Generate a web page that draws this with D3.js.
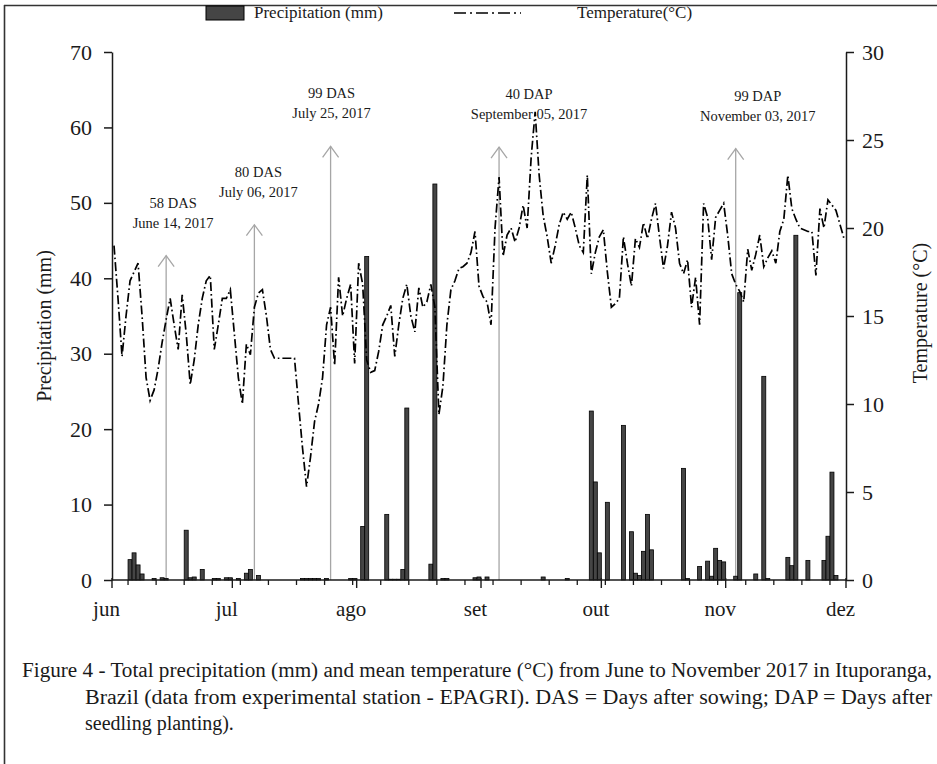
<!DOCTYPE html>
<html><head><meta charset="utf-8">
<script src="https://cdn.jsdelivr.net/npm/d3@7"></script>
<style>
body{margin:0;background:#fff}
svg{display:block}
text{font-family:"Liberation Serif","Times New Roman",serif;fill:#1a1a1a}
</style>
</head><body>
<svg id="c" width="937" height="764"></svg>
<script>
// ---------- DATA ----------
const startDate = "2017-06-01";
const endDate = "2017-12-01";
const monthLabels = ["jun","jul","ago","set","out","nov","dez"];
const leftTicks = [0,10,20,30,40,50,60,70];
const rightTicks = [0,5,10,15,20,25,30];

// daily mean temperature (°C), Jun 1 .. Nov 30 2017
const temperature = [
 19.0,16.0,12.7,15.0,17.0,17.5,18.0,15.0,11.5,10.2,
 10.8,12.0,13.5,14.8,16.0,14.5,13.1,16.2,14.0,11.1,
 12.5,14.5,16.0,17.0,17.3,13.1,14.5,16.0,16.0,16.5,
 14.0,11.5,10.0,13.4,12.8,15.5,16.3,16.5,15.0,13.1,
 12.6,12.6,12.6,12.6,12.6,12.6,10.0,7.5,5.3,7.0,
 9.0,10.0,11.5,14.5,15.5,12.2,17.2,15.0,16.0,16.8,
 12.3,18.0,16.8,12.5,11.8,11.9,13.0,14.5,15.0,15.6,
 12.7,14.5,16.0,16.8,15.0,14.1,16.6,15.5,15.8,16.8,
 15.5,9.4,11.0,14.5,16.5,17.0,17.7,17.8,18.0,18.6,
 19.8,16.7,16.1,15.8,14.5,20.0,22.9,18.4,19.6,20.0,
 19.2,20.0,21.3,20.0,24.0,26.6,23.0,20.7,19.5,18.0,
 19.0,20.2,20.9,20.5,20.9,20.0,19.0,18.6,23.0,17.4,
 18.6,19.5,19.9,17.5,15.5,15.7,16.0,19.5,18.0,16.7,
 19.4,18.9,20.3,19.4,20.5,21.4,19.5,17.7,19.0,20.9,
 20.0,18.0,17.4,18.2,15.5,17.2,14.5,21.4,20.6,18.2,
 20.6,21.0,21.4,19.6,17.4,16.8,16.4,15.8,18.8,17.6,
 18.5,19.6,17.8,18.3,18.7,18.0,19.8,20.5,23.0,21.1,
 20.5,20.0,19.9,19.8,19.8,17.3,21.1,20.0,21.6,21.3,
 21.0,20.2,19.4
];

// daily precipitation (mm): day index counted from Jun 1, and amount
const precipDays = [4,5,6,7,10,12,13,18,19,20,22,25,26,28,29,31,33,34,36,
 47,48,49,50,51,53,59,60,62,63,68,69,70,71,72,73,79,80,82,83,90,91,93,107,113,
 119,120,121,123,127,129,130,131,132,133,134,142,143,146,148,149,150,151,152,
 155,156,160,162,163,168,169,170,173,177,178,179,180];
const precipValues = [2.7,3.6,2.0,0.8,0.2,0.3,0.2,6.6,0.3,0.4,1.4,0.2,0.2,0.3,0.3,0.2,0.9,1.4,0.6,
 0.2,0.2,0.2,0.2,0.2,0.2,0.2,0.2,7.1,42.9,8.7,0.1,0.1,0.1,1.4,22.8,2.1,52.5,0.2,0.2,0.3,0.4,0.4,0.4,0.2,
 22.4,13.0,3.6,10.3,20.5,6.4,0.9,0.6,3.8,8.7,4.0,14.8,0.2,1.8,2.5,0.5,4.2,2.6,2.4,
 0.5,38.1,0.8,27.0,0.2,3.0,1.9,45.7,2.6,2.6,5.8,14.3,0.6];

// crop stage events
const eventDates = ["2017-06-14","2017-07-06","2017-07-25","2017-09-05","2017-11-03"];
const eventStage = ["58 DAS","80 DAS","99 DAS","40 DAP","99 DAP"];
const eventDateText = ["June 14, 2017","July 06, 2017","July 25, 2017","September 05, 2017","November 03, 2017"];
const eventArrowTop = [43.0, 47.1, 57.5, 57.4, 57.2]; // arrow tip, in mm of the left axis

const legendLabels = ["Precipitation (mm)","Temperature(°C)"];
const yLeftTitle = "Precipitation (mm)";
const yRightTitle = "Temperature (°C)";
const captionLines = [
 "Figure 4 - Total precipitation  (mm) and mean temperature (°C) from June to November 2017 in Ituporanga,",
 "Brazil (data from experimental station - EPAGRI). DAS = Days after sowing; DAP = Days after",
 "seedling planting)."
];

// ---------- DRAWING ----------
const svg = d3.select("#c");
const parse = d3.timeParse("%Y-%m-%d");
const X0 = 112, X1 = 846, YT = 52, YB = 580;
const t0 = parse(startDate), t1 = parse(endDate);
const x = d3.scaleTime().domain([t0, t1]).range([X0, X1]);
const yP = d3.scaleLinear().domain([0, 70]).range([YB, YT]);
const yT = d3.scaleLinear().domain([0, 30]).range([YB, YT]);
const noon = d => d3.timeHour.offset(d3.timeDay.offset(t0, d), 12);
const ink = "#1a1a1a";

// frame
svg.append("line").attr("x1",4).attr("x2",937).attr("y1",5.5).attr("y2",5.5).attr("stroke","#333").attr("stroke-width",1.6);
svg.append("line").attr("x1",4.5).attr("x2",4.5).attr("y1",5).attr("y2",764).attr("stroke","#333").attr("stroke-width",1.6);

// arrows (behind data)
const arrowG = svg.append("g");
const labelDx = [7, 4, 1, 30, 22];
eventDates.forEach((ds, i) => {
  const ax = x(d3.timeHour.offset(parse(ds), 12));
  const tip = yP(eventArrowTop[i]);
  arrowG.append("line").attr("x1",ax).attr("x2",ax).attr("y1",yP(0)).attr("y2",tip)
    .attr("stroke","#a6a6a6").attr("stroke-width",1.3);
  arrowG.append("path").attr("d",`M${ax-8},${tip+11}L${ax},${tip}L${ax+8},${tip+11}`)
    .attr("fill","none").attr("stroke","#a6a6a6").attr("stroke-width",1.3);
  arrowG.append("text").attr("x",ax+labelDx[i]).attr("y",tip-48).attr("text-anchor","middle")
    .attr("font-size",14.5).text(eventStage[i]);
  arrowG.append("text").attr("x",ax+labelDx[i]).attr("y",tip-28).attr("text-anchor","middle")
    .attr("font-size",14.5).text(eventDateText[i]);
});

// bars
const bars = precipDays.map((d, i) => ({d, v: precipValues[i]}));
svg.append("g").selectAll("rect").data(bars).join("rect")
  .attr("x", o => x(noon(o.d)) - 2).attr("width", 4)
  .attr("y", o => yP(o.v)).attr("height", o => YB - yP(o.v))
  .attr("fill", "#454545").attr("stroke", "#000").attr("stroke-width", 0.8);

// temperature line
const line = d3.line().x((v, i) => x(noon(i))).y(v => yT(v));
svg.append("path").datum(temperature).attr("d", line)
  .attr("fill","none").attr("stroke","#000").attr("stroke-width",1.7)
  .attr("stroke-dasharray","9,3,1.6,3");

// left axis
const axL = svg.append("g").attr("transform",`translate(${X0},0)`)
  .call(d3.axisLeft(yP).tickValues(leftTicks).tickSize(8).tickSizeOuter(0).tickPadding(12));
// right axis
const axR = svg.append("g").attr("transform",`translate(${X1},0)`)
  .call(d3.axisRight(yT).tickValues(rightTicks).tickSize(8).tickSizeOuter(0).tickPadding(8));
[axL, axR].forEach(g => {
  g.select(".domain").attr("stroke", ink).attr("stroke-width", 1.5);
  g.selectAll(".tick line").attr("stroke", ink).attr("stroke-width", 1.5);
  g.selectAll(".tick text").attr("font-size", 22).attr("font-family", '"Liberation Serif",serif').attr("fill", ink);
});

// bottom axis: weekly minor ticks + monthly major ticks
const axB = svg.append("g").attr("transform",`translate(0,${YB})`);
axB.append("line").attr("x1",X0).attr("x2",X1).attr("stroke",ink).attr("stroke-width",1.5);
axB.selectAll("line.minor").data(d3.timeMonday.range(t0, t1)).join("line").attr("class","minor")
  .attr("x1", d => x(d)).attr("x2", d => x(d)).attr("y1", 0).attr("y2", 5)
  .attr("stroke", ink).attr("stroke-width", 1.3);
const months = d3.timeMonth.range(t0, d3.timeDay.offset(t1, 1));
axB.selectAll("line.major").data(months).join("line").attr("class","major")
  .attr("x1", d => x(d)).attr("x2", d => x(d)).attr("y1", -2).attr("y2", 8)
  .attr("stroke", ink).attr("stroke-width", 1.4);
axB.selectAll("text").data(months).join("text")
  .attr("x", d => x(d) - 5.5).attr("y", 36).attr("text-anchor","middle")
  .attr("font-size", 21).text((d, i) => monthLabels[i]);

// axis titles
svg.append("text").attr("transform","translate(50.5,326) rotate(-90)").attr("text-anchor","middle")
  .attr("font-size",20).text(yLeftTitle);
svg.append("text").attr("transform","translate(926.5,313) rotate(-90)").attr("text-anchor","middle")
  .attr("font-size",20).text(yRightTitle);

// legend
const lg = svg.append("g");
lg.append("rect").attr("x",206).attr("y",6).attr("width",38).attr("height",14)
  .attr("fill","#454545").attr("stroke","#000").attr("stroke-width",1);
lg.append("text").attr("x",254).attr("y",18).attr("font-size",17).text(legendLabels[0]);
lg.append("line").attr("x1",454).attr("x2",521).attr("y1",13).attr("y2",13)
  .attr("stroke","#000").attr("stroke-width",1.7).attr("stroke-dasharray","12,4,2,4");
lg.append("text").attr("x",577).attr("y",18).attr("font-size",17).text(legendLabels[1]);

// caption (justified lines)
const cap = svg.append("g").attr("font-size",20);
const c1 = cap.append("text").attr("x",22).attr("y",677).text(captionLines[0]);
const c2 = cap.append("text").attr("x",85).attr("y",704).text(captionLines[1]);
const c3 = cap.append("text").attr("x",85).attr("y",730).text(captionLines[2]);
c1.attr("textLength",910).attr("lengthAdjust","spacingAndGlyphs");
c2.attr("textLength",847).attr("lengthAdjust","spacingAndGlyphs");
</script>
</body></html>
